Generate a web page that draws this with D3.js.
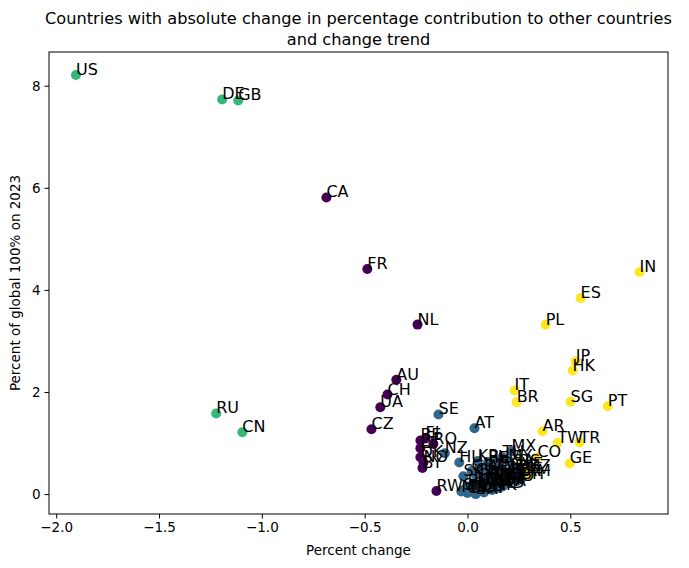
<!DOCTYPE html>
<html lang="en">
<head>
<meta charset="utf-8">
<script src="https://d3js.org/d3.v7.min.js"></script>
<style>
  body { margin: 0; background: #fff; }
  text { font-family: "DejaVu Sans", sans-serif; fill: #000; }
</style>
</head>
<body>
<div class="display1"></div>
<script>
// country codes, percent change (x), share of global 100% in 2023 (y), cluster id
var codes = ["US","DE","GB","RU","CN",
  "CA","FR","NL","AU","CH","UA","CZ","BE","FI","RO","LT","DK","NO","BY","RW",
  "IN","ES","PL","JP","HK","IT","BR","SG","PT","AR","TW","TR","GE","CO","RS","KZ","AM","VE",
  "SE","AT","MX","NZ","HU","KR","PH","TH","IE","MY","ID","GR","SK","CL","VN","EG","ZA","SA",
  "AE","PK","NG","BD","LK","EE","LV","SI","HR","LU","IS","CY","MT","MA","TN","KE","UY","PE",
  "EC","BA","MK","AL","MD","GT","CR","DO","QA","BH","JO"];
var change = [-1.904,-1.193,-1.115,-1.222,-1.095,
  -0.686,-0.487,-0.243,-0.346,-0.389,-0.424,-0.467,-0.229,-0.204,-0.166,-0.229,-0.229,-0.214,-0.219,-0.151,
  0.837,0.550,0.380,0.526,0.511,0.229,0.239,0.501,0.682,0.365,0.438,0.545,0.497,0.340,0.250,0.300,0.285,0.265,
  -0.141,0.034,0.214,-0.110,-0.040,0.050,0.100,0.170,0.130,0.200,0.080,0.020,-0.020,0.040,0.120,0.160,0.180,0.220,
  0.100,0.060,0.140,0.030,0.090,0.000,0.050,-0.020,0.070,0.110,0.020,0.000,-0.030,0.130,0.160,0.190,0.080,0.210,
  0.230,0.040,0.120,0.090,0.150,0.180,0.250,0.060,0.170,0.260,0.240];
var share = [8.21,7.73,7.71,1.58,1.21,
  5.81,4.41,3.32,2.24,1.95,1.70,1.27,1.05,1.09,0.98,0.90,0.72,0.62,0.51,0.06,
  4.35,3.84,3.32,2.60,2.42,2.03,1.80,1.81,1.72,1.23,1.00,1.01,0.60,0.72,0.55,0.45,0.36,0.50,
  1.56,1.29,0.84,0.80,0.62,0.65,0.63,0.72,0.60,0.65,0.50,0.45,0.35,0.38,0.45,0.50,0.42,0.55,
  0.33,0.28,0.30,0.20,0.22,0.15,0.12,0.08,0.10,0.18,0.05,0.02,0.05,0.22,0.25,0.30,0.03,0.38,
  0.45,0.00,0.08,0.15,0.12,0.20,0.35,0.06,0.15,0.30,0.25];
var cluster = [2,2,2,2,2,
  0,0,0,0,0,0,0,0,0,0,0,0,0,0,0,
  3,3,3,3,3,3,3,3,3,3,3,3,3,3,3,3,3,3,
  1,1,1,1,1,1,1,1,1,1,1,1,1,1,1,1,1,1,
  1,1,1,1,1,1,1,1,1,1,1,1,1,1,1,1,1,1,
  1,1,1,1,1,1,1,1,1,1,1];
var xTicks = [-2.0,-1.5,-1.0,-0.5,0.0,0.5];
var yTicks = [0,2,4,6,8];

var width = 689, height = 568;
var margin = {left: 49, top: 52, right: 21, bottom: 54};
var w = width - margin.left - margin.right, h = height - margin.top - margin.bottom;

var clusterColor = ["#440154","#31688e","#35b779","#fde725"];

var pts = codes.map(function(c, i) { return {code: c, x: change[i], y: share[i], k: cluster[i]}; });

var svg = d3.select('.display1').append('svg').attr('width', width).attr('height', height);

var x = d3.scaleLinear().domain([-2.035, 0.975]).range([0, w]);
var y = d3.scaleLinear().domain([-0.39, 8.66]).range([h, 0]);

var g = svg.append('g').attr('transform', 'translate(' + margin.left + ',' + margin.top + ')');

var xAxis = g.append('g').attr('transform', 'translate(0,' + h + ')')
  .call(d3.axisBottom(x).tickValues(xTicks).tickFormat(d3.format('.1f')).tickSize(4.5).tickPadding(4));
var yAxis = g.append('g')
  .call(d3.axisLeft(y).tickValues(yTicks).tickFormat(d3.format('d')).tickSize(4.5).tickPadding(4));
[xAxis, yAxis].forEach(function(a) {
  a.select('.domain').remove();
  a.selectAll('line').attr('stroke', '#000').attr('stroke-width', 1);
  a.selectAll('text').style('font-size', '13.5px').attr('fill', '#000');
});

g.selectAll('circle')
  .data(pts)
  .join('circle')
  .attr('cx', function(d) { return x(d.x); })
  .attr('cy', function(d) { return y(d.y); })
  .attr('r', 5)
  .attr('fill', function(d) { return clusterColor[d.k]; });

g.selectAll('text.lbl')
  .data(pts)
  .join('text')
  .attr('class', 'lbl')
  .attr('x', function(d) { return x(d.x); })
  .attr('y', function(d) { return y(d.y); })
  .style('font-size', '16px')
  .text(function(d) { return d.code; });

// frame
g.append('rect').attr('width', w).attr('height', h)
  .attr('fill', 'none').attr('stroke', '#000').attr('stroke-width', 1);

// title and axis labels
svg.append('text').attr('x', margin.left + w / 2).attr('y', 24)
  .attr('text-anchor', 'middle').style('font-size', '16.2px')
  .text('Countries with absolute change in percentage contribution to other countries');
svg.append('text').attr('x', margin.left + w / 2).attr('y', 45)
  .attr('text-anchor', 'middle').style('font-size', '16.2px')
  .text('and change trend');
svg.append('text').attr('x', margin.left + w / 2).attr('y', 555)
  .attr('text-anchor', 'middle').style('font-size', '13.5px')
  .text('Percent change');
svg.append('text').attr('transform', 'translate(20,' + (margin.top + h / 2) + ') rotate(-90)')
  .attr('text-anchor', 'middle').style('font-size', '13.5px')
  .text('Percent of global 100% on 2023');
</script>
</body>
</html>
